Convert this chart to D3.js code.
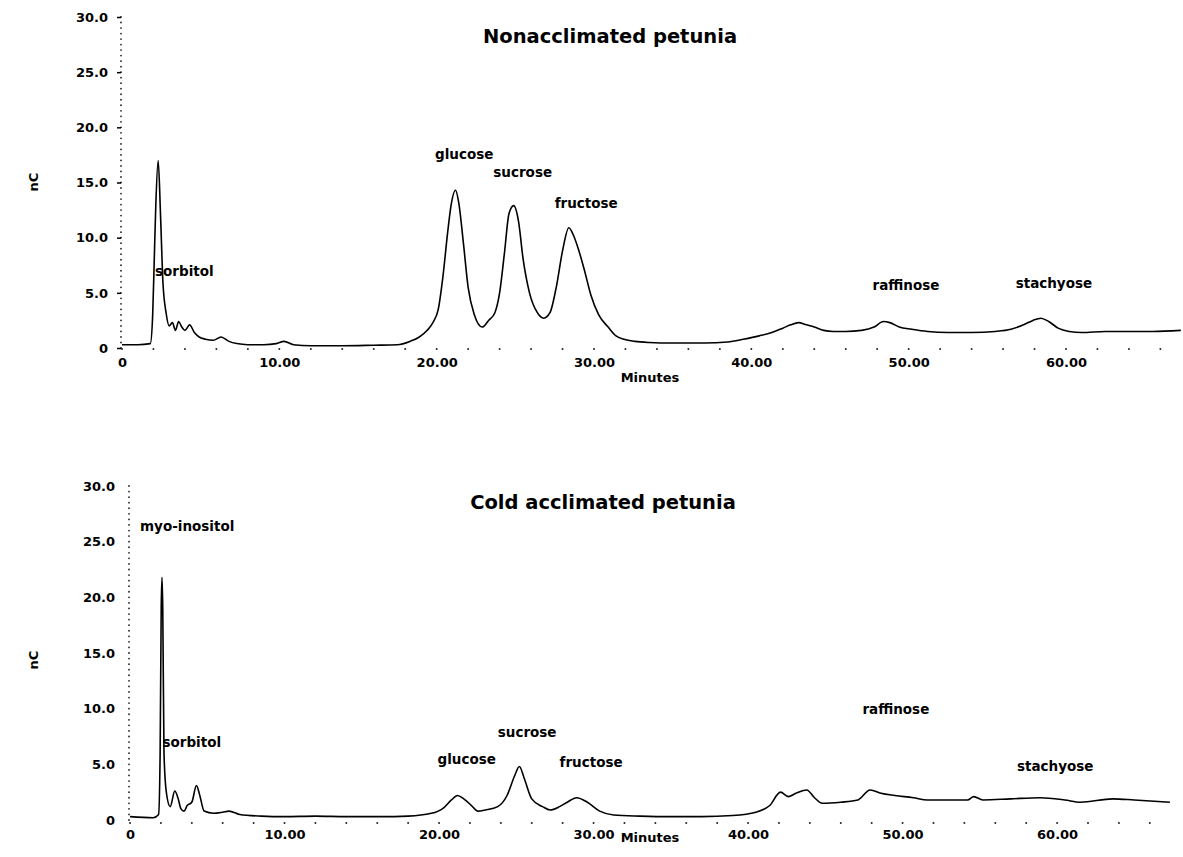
<!DOCTYPE html>
<html>
<head>
<meta charset="utf-8">
<script src="https://cdn.jsdelivr.net/npm/d3@7"></script>
<style>
  body { margin: 0; background: #fff; }
  svg text { font-family: "DejaVu Sans", "Liberation Sans", Arial, sans-serif; font-weight: bold; fill: #000; }
</style>
</head>
<body>
<div id="chart"></div>
<script>
// tick values
const yTicks = [0, 5, 10, 15, 20, 25, 30];
const xTicks = [0, 10, 20, 30, 40, 50, 60];

// chromatogram traces: [minutes, nC]
const nonacclimatedTrace = [
  [0, 0.3], [1.0, 0.3], [1.8, 0.4], [1.95, 3], [2.05, 8], [2.15, 13], [2.3, 17], [2.45, 12], [2.6, 6],
  [2.8, 3.2], [3.0, 2.0], [3.2, 2.3], [3.4, 1.6], [3.6, 2.4], [3.8, 1.9], [4.0, 1.6], [4.3, 2.1],
  [4.6, 1.4], [4.9, 1.0], [5.3, 0.8], [5.8, 0.7], [6.3, 1.0], [6.8, 0.6], [7.3, 0.4], [8, 0.3],
  [9, 0.3], [9.8, 0.4], [10.3, 0.6], [10.9, 0.3], [12, 0.2], [14, 0.2], [16, 0.25], [17.5, 0.3],
  [18.3, 0.6], [18.9, 1.0], [19.4, 1.6], [19.8, 2.4], [20.1, 3.5], [20.4, 6.5], [20.7, 10.5],
  [20.9, 12.8], [21.2, 14.3], [21.4, 13.2], [21.7, 9.5], [22.0, 5.5], [22.4, 3.0], [22.9, 1.9],
  [23.3, 2.5], [23.7, 3.2], [24.0, 5.0], [24.3, 8.5], [24.6, 12.2], [24.9, 12.9], [25.2, 11.5],
  [25.5, 8.0], [25.9, 5.0], [26.4, 3.2], [26.8, 2.7], [27.2, 3.2], [27.6, 5.5], [28.0, 8.8],
  [28.4, 10.9], [28.7, 10.2], [29.0, 9.0], [29.4, 7.0], [29.8, 4.8], [30.3, 3.0], [30.9, 1.9],
  [31.4, 1.1], [31.9, 0.8], [32.6, 0.6], [33.5, 0.5], [35, 0.45], [37, 0.45], [38.5, 0.55],
  [39.5, 0.8], [40.5, 1.1], [41.3, 1.4], [42.0, 1.8], [42.5, 2.1], [43.0, 2.3], [43.5, 2.1],
  [44.0, 1.9], [44.6, 1.6], [45.2, 1.5], [46.0, 1.5], [47.0, 1.6], [47.8, 1.9], [48.4, 2.4],
  [48.8, 2.3], [49.4, 1.9], [50.2, 1.7], [51.2, 1.5], [52.5, 1.4], [54.0, 1.4], [55.5, 1.5],
  [56.5, 1.7], [57.3, 2.1], [57.9, 2.5], [58.4, 2.7], [58.9, 2.4], [59.5, 1.8], [60.2, 1.5],
  [61.0, 1.4], [62.5, 1.5], [64, 1.5], [65.5, 1.5], [67.3, 1.6]
];

const coldTrace = [
  [0, 0.3], [1.5, 0.2], [1.85, 0.5], [1.95, 6], [2.02, 19], [2.07, 21.8], [2.12, 19], [2.2, 6],
  [2.35, 2.5], [2.6, 1.2], [2.9, 2.6], [3.1, 2.0], [3.3, 1.0], [3.5, 0.8], [3.7, 1.3], [4.0, 1.6],
  [4.3, 3.1], [4.5, 2.3], [4.8, 0.8], [5.4, 0.6], [6.0, 0.7], [6.4, 0.8], [7.1, 0.5], [8.5, 0.35],
  [10, 0.3], [12, 0.35], [14, 0.3], [16.2, 0.3], [18, 0.35], [19.5, 0.6], [20.3, 1.1], [20.8, 1.8],
  [21.2, 2.2], [21.6, 1.9], [22.1, 1.3], [22.5, 0.8], [23.0, 0.9], [23.8, 1.2], [24.4, 2.2],
  [24.9, 4.0], [25.2, 4.8], [25.5, 3.8], [26.0, 1.9], [26.7, 1.2], [27.2, 0.9], [27.8, 1.2],
  [28.3, 1.6], [28.9, 2.0], [29.6, 1.6], [30.4, 0.8], [31.3, 0.45], [33, 0.35], [35, 0.3],
  [37, 0.3], [39, 0.4], [40.5, 0.7], [41.4, 1.3], [42.1, 2.5], [42.6, 2.1], [43.1, 2.4],
  [43.8, 2.7], [44.3, 2.0], [44.8, 1.5], [46, 1.6], [47.1, 1.8], [47.9, 2.7], [48.6, 2.4],
  [49.5, 2.2], [50.7, 2.0], [51.6, 1.8], [53, 1.8], [54.2, 1.8], [54.6, 2.1], [55.2, 1.8],
  [57, 1.9], [58.9, 2.0], [60.5, 1.8], [61.5, 1.6], [63.6, 1.9], [65, 1.8], [67.3, 1.6]
];

// peak labels and where they sit (minutes, nC)
const nonacclimatedPeaks = ['sorbitol', 'glucose', 'sucrose', 'fructose', 'raffinose', 'stachyose'];
const nonacclimatedPeakMin = [2.1, 19.9, 23.6, 27.5, 47.7, 56.8];
const nonacclimatedPeakNC = [6.5, 17.1, 15.5, 12.7, 5.3, 5.4];

const coldPeaks = ['myo-inositol', 'sorbitol', 'glucose', 'sucrose', 'fructose', 'raffinose', 'stachyose'];
const coldPeakMin = [0.65, 2.1, 19.9, 23.8, 27.8, 47.4, 57.4];
const coldPeakNC = [26.0, 6.6, 5.0, 7.5, 4.8, 9.5, 4.4];

const width = 1183, height = 857;

const svg = d3.select('#chart').append('svg')
  .attr('width', width)
  .attr('height', height);

function drawPanel(cfg) {
  const x = d3.scaleLinear().domain([0, 67.5]).range([cfg.left, cfg.right]);
  const y = d3.scaleLinear().domain([0, 30]).range([cfg.bottom, cfg.top]);
  const g = svg.append('g');

  // dotted y axis (minor dots every 0.5 nC)
  g.append('g').selectAll('circle')
    .data(d3.range(0, 30.01, 0.5))
    .join('circle')
    .attr('cx', cfg.left - 1)
    .attr('cy', d => y(d))
    .attr('r', 0.9)
    .attr('fill', '#222');

  const yAxis = g.append('g')
    .attr('transform', `translate(${cfg.left - 1},0)`)
    .call(d3.axisLeft(y).tickValues(yTicks).tickSize(cfg.yTickSize).tickPadding(cfg.yPad)
      .tickFormat(d => d === 0 ? '0' : d3.format('.1f')(d)));
  yAxis.select('.domain').remove();
  yAxis.selectAll('line').attr('stroke', '#000').attr('stroke-width', 1.5);
  yAxis.selectAll('text').style('font-size', '13px').attr('fill', '#000');

  // dotted x axis (minor dots every 2 minutes)
  g.append('g').selectAll('circle')
    .data(d3.range(0, 67.5, 2))
    .join('circle')
    .attr('cx', d => x(d))
    .attr('cy', cfg.bottom + cfg.xDotOffset)
    .attr('r', 1)
    .attr('fill', '#222');

  const xAxis = g.append('g')
    .attr('transform', `translate(0,${cfg.bottom})`)
    .call(d3.axisBottom(x).tickValues(xTicks).tickSize(0).tickPadding(10)
      .tickFormat(d => d === 0 ? '0' : d3.format('.2f')(d)));
  xAxis.select('.domain').remove();
  xAxis.selectAll('text').style('font-size', '13px').attr('fill', '#000');

  // trace
  const line = d3.line()
    .x(d => x(d[0]))
    .y(d => y(d[1]))
    .curve(d3.curveMonotoneX);

  g.append('path')
    .datum(cfg.trace)
    .attr('d', line)
    .attr('fill', 'none')
    .attr('stroke', '#000')
    .attr('stroke-width', 1.6);

  // peak names
  g.append('g').selectAll('text')
    .data(cfg.peaks)
    .join('text')
    .attr('x', (d, i) => x(cfg.peakMin[i]))
    .attr('y', (d, i) => y(cfg.peakNC[i]))
    .style('font-size', '13.5px')
    .text(d => d);

  // title
  g.append('text')
    .attr('x', cfg.titleX)
    .attr('y', cfg.titleY)
    .attr('text-anchor', 'middle')
    .style('font-size', '19.5px')
    .text(cfg.title);

  // axis titles
  g.append('text')
    .attr('x', 650)
    .attr('y', cfg.bottom + cfg.minutesDy)
    .attr('text-anchor', 'middle')
    .style('font-size', '13px')
    .text('Minutes');

  g.append('text')
    .attr('transform', `translate(38,${cfg.nCY}) rotate(-90)`)
    .attr('text-anchor', 'middle')
    .style('font-size', '13px')
    .text('nC');
}

drawPanel({
  left: 122, right: 1184, top: 17, bottom: 348,
  trace: nonacclimatedTrace,
  peaks: nonacclimatedPeaks, peakMin: nonacclimatedPeakMin, peakNC: nonacclimatedPeakNC,
  title: 'Nonacclimated petunia', titleX: 610, titleY: 43,
  yTickSize: 4, yPad: 9, xDotOffset: 1, minutesDy: 34, nCY: 182
});

drawPanel({
  left: 130, right: 1173, top: 486, bottom: 820,
  trace: coldTrace,
  peaks: coldPeaks, peakMin: coldPeakMin, peakNC: coldPeakNC,
  title: 'Cold acclimated petunia', titleX: 603, titleY: 509,
  yTickSize: 0, yPad: 14, xDotOffset: 3, minutesDy: 22, nCY: 660
});
</script>
</body>
</html>
